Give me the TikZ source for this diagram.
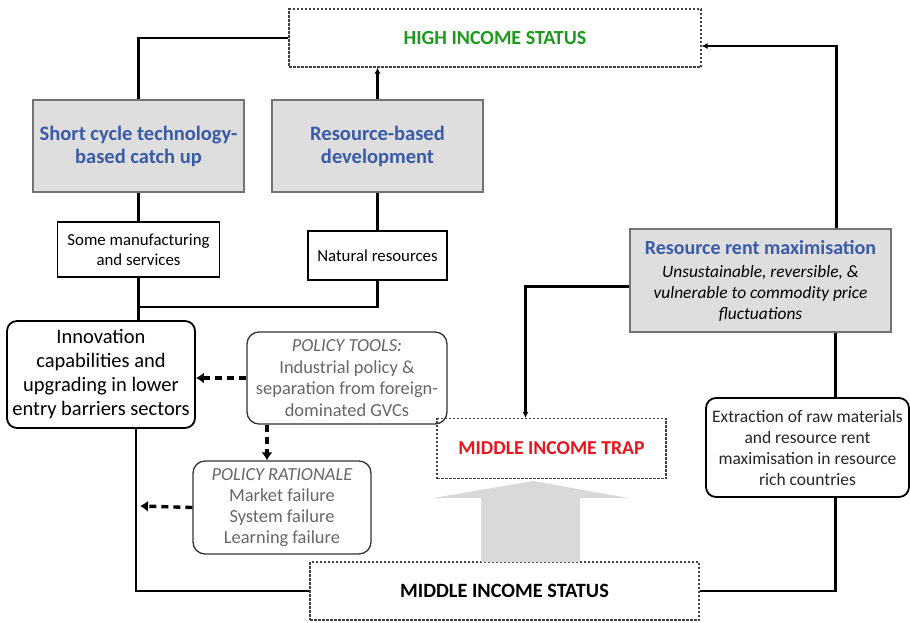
\documentclass[tikz,border=0pt]{standalone}
\usepackage{fontspec}
\setmainfont{Carlito}
\usetikzlibrary{arrows.meta}
\definecolor{tblue}{HTML}{3A5BA8}
\definecolor{tgreen}{HTML}{1C9A1C}
\definecolor{tred}{HTML}{E8141C}
\definecolor{boxgray}{HTML}{DEDEDE}
\definecolor{arrgray}{HTML}{D9D9D9}
\definecolor{ptext}{HTML}{666666}
\tikzset{
  dbox/.style={draw=black!75, dashed, dash pattern=on 2.5pt off 1.5pt, line width=1.1pt, inner sep=0pt, align=center},
  gbox/.style={draw=black!55, fill=boxgray, line width=1.4pt, inner sep=0pt, align=center},
  wbox/.style={draw=black, line width=1.8pt, inner sep=0pt, align=center},
  rbox/.style={draw=black, line width=1.8pt, rounded corners=10pt, inner sep=0pt, align=center},
  pbox/.style={draw=black!80, line width=1.3pt, rounded corners=12pt, inner sep=0pt, align=center, text=ptext},
  conn/.style={draw=black, line width=2.2pt},
  arr/.style={conn, -{Latex[length=6pt,width=6pt]}},
  darr/.style={draw=black, line width=3.4pt, dash pattern=on 7pt off 5pt, -{Latex[length=8pt,width=11pt]}},
  ttl/.style={font=\fontsize{20.5}{23}\selectfont\bfseries, text=tblue}
}
\begin{document}
\begin{tikzpicture}[x=1pt,y=-1pt]
\useasboundingbox (0,0) rectangle (910,622);
% nodes
\node[dbox, minimum width=412pt, minimum height=58pt, font=\fontsize{20}{22}\selectfont\bfseries, text=tgreen] (high) at (495,38) {HIGH INCOME STATUS};
\node[gbox, minimum width=211pt, minimum height=92pt, ttl] (sc) at (138.5,146) {Short cycle technology-\\based catch up};
\node[gbox, minimum width=211pt, minimum height=92pt, ttl] (rb) at (377.5,146) {Resource-based\\development};
\node[wbox, minimum width=162pt, minimum height=55pt, font=\fontsize{16.8}{20}\selectfont] (smf) at (138.5,249.5) {Some manufacturing\\and services};
\node[wbox, minimum width=139pt, minimum height=49pt, font=\fontsize{16.8}{20}\selectfont] (nat) at (377.5,255.5) {Natural resources};
\node[rbox, minimum width=188pt, minimum height=107pt, font=\fontsize{20.5}{24}\selectfont] (inn) at (101,374.5) {Innovation\\capabilities and\\upgrading in lower\\entry barriers sectors};
\node[pbox, minimum width=200pt, minimum height=92pt, font=\fontsize{18.4}{21.7}\selectfont] (pt) at (347,378) {\textit{POLICY TOOLS:}\\Industrial policy \&\\separation from foreign-\\dominated GVCs};
\node[pbox, minimum width=178pt, minimum height=93pt, font=\fontsize{18.4}{21}\selectfont] (pr) at (282,507.5) {\textit{POLICY RATIONALE}\\Market failure\\System failure\\Learning failure};
\node[gbox, minimum width=261pt, minimum height=103pt, font=\fontsize{17.4}{21}\selectfont\itshape] (rrm) at (760.5,280.5) {{\fontsize{20}{24}\selectfont\bfseries\upshape\color{tblue}Resource rent maximisation}\\[2pt]Unsustainable, reversible, \&\\vulnerable to commodity price\\fluctuations};
\node[rbox, minimum width=203pt, minimum height=99pt, font=\fontsize{17.5}{21}\selectfont, text=black!85] (ext) at (807.5,447.5) {Extraction of raw materials\\and resource rent\\maximisation in resource\\rich countries};
\node[dbox, minimum width=229pt, minimum height=60pt, font=\fontsize{19.7}{22}\selectfont\bfseries, text=tred] (trap) at (551.5,448.5) {MIDDLE INCOME TRAP};
\node[dbox, minimum width=389pt, minimum height=58pt, font=\fontsize{20.3}{22}\selectfont\bfseries] (mis) at (504.5,591) {MIDDLE INCOME STATUS};
% big gray arrow
\fill[arrgray] (481,562) -- (481,498) -- (433,498) -- (533,481) -- (628,498) -- (580,498) -- (580,562) -- cycle;
% coordinates
\coordinate (j) at (139,307);
\coordinate (pa) at (140,506);
% connectors
\draw[conn] (high.west) -| (sc.north);
\draw[arr] (rb.north) -- (rb.north |- high.south);
\draw[conn] (sc.south) -- (smf.north);
\draw[conn] (rb.south) -- (nat.north);
\draw[conn] (smf.south) -- (smf.south |- inn.north);
\draw[conn] (nat.south) |- (j);
\draw[conn] ([xshift=35pt]inn.south) |- (mis.west);
\draw[darr] (pt.west) -- (inn.east |- pt.west);
\draw[darr] ([xshift=-80pt]pt.south) -- ([xshift=-80pt]pt.south |- pr.north);
\draw[darr] (pr.west) -- (pa);
\draw[arr] ([xshift=76pt]rrm.north) |- ([yshift=-8pt]high.east);
\draw[arr] ([yshift=-6pt]rrm.west) -| ([xshift=-26pt]trap.north);
\draw[conn] ([xshift=75pt]rrm.south) -- ([xshift=75pt]rrm.south |- ext.north);
\draw[conn] ([xshift=28pt]ext.south) |- (mis.east);
\end{tikzpicture}
\end{document}
